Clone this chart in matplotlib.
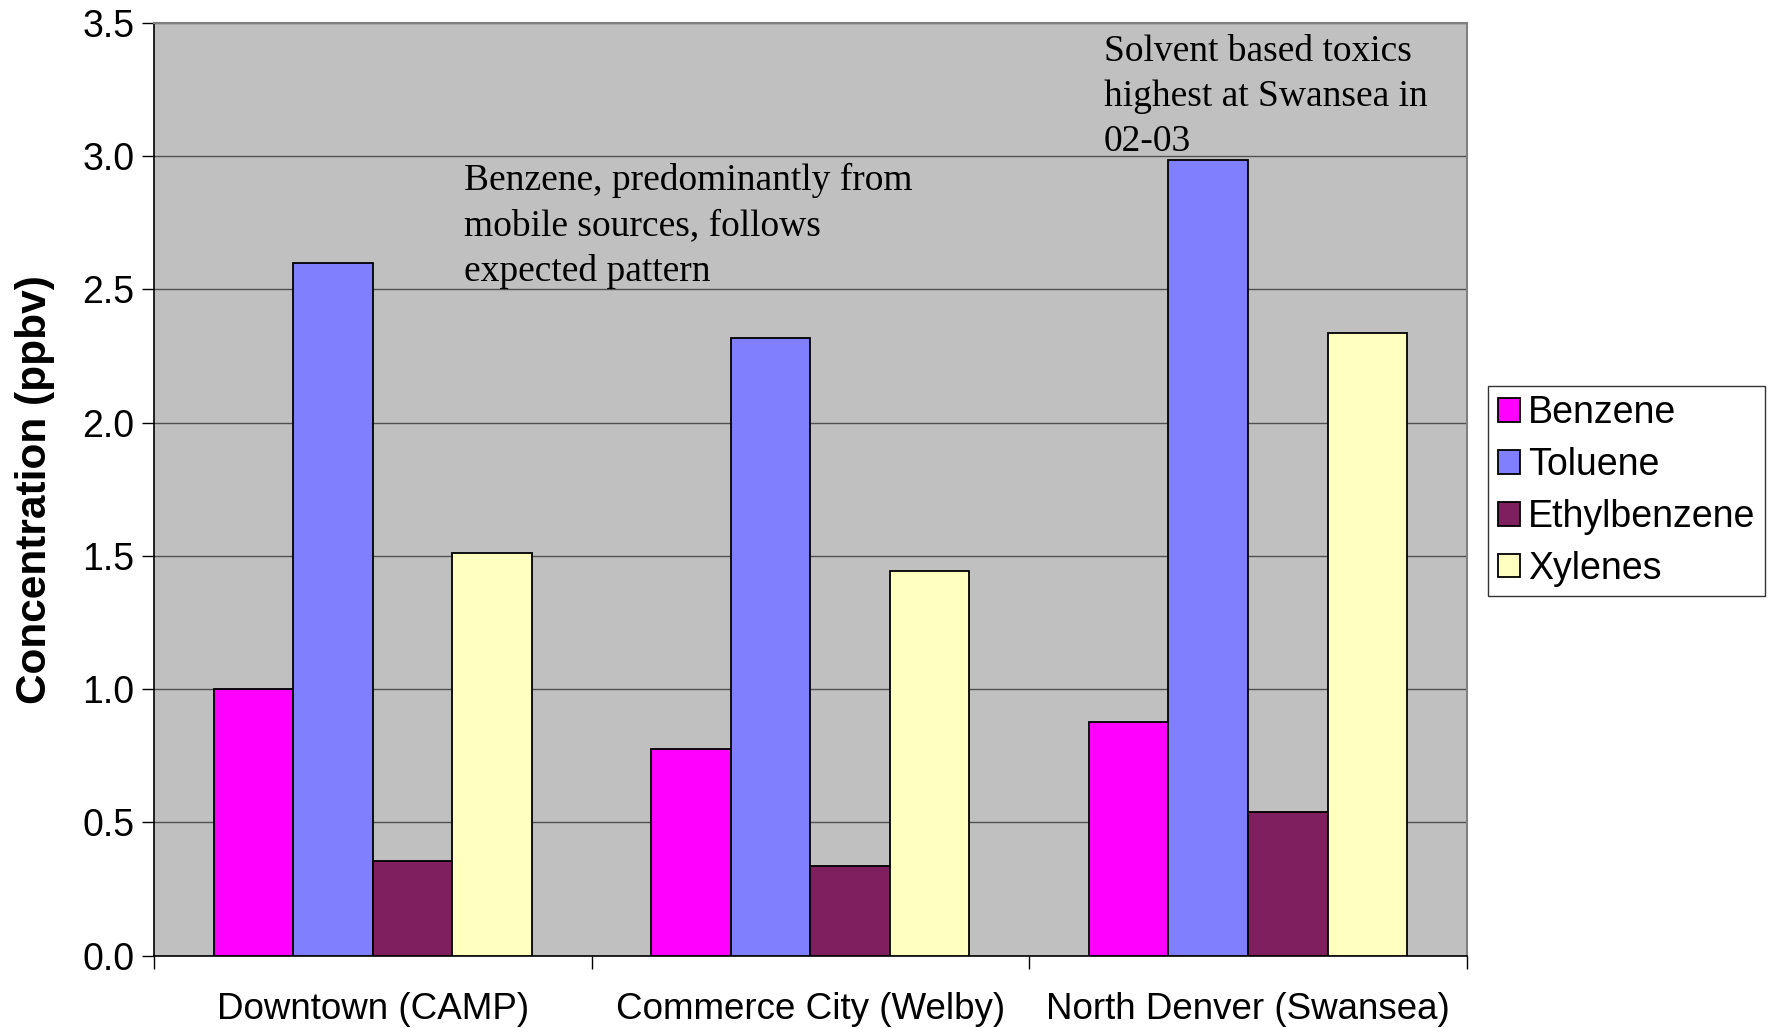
import matplotlib.pyplot as plt
import numpy as np

# Average concentrations of the four aromatics at each site (ppbv)
sites = ["Downtown (CAMP)", "Commerce City (Welby)", "North Denver (Swansea)"]
compounds = ["Benzene", "Toluene", "Ethylbenzene", "Xylenes"]
benzene = [1.00, 0.776, 0.878]
toluene = [2.60, 2.317, 2.987]
ethylbenzene = [0.356, 0.335, 0.539]
xylenes = [1.51, 1.443, 2.338]
colors = ["#FF00FF", "#8080FF", "#7F1F5F", "#FFFFC0"]

series = [benzene, toluene, ethylbenzene, xylenes]

fig = plt.figure(figsize=(17.74, 10.28), dpi=100)
ax = fig.add_axes([0.0868, 0.0704, 0.740, 0.9072])
ax.set_facecolor("#C0C0C0")

# gap width of 1.5 bars between groups, 4 bars each
n = len(series)
bw = 1.0 / (n + 1.5)
x = np.arange(len(sites))
for i, (vals, name, c) in enumerate(zip(series, compounds, colors)):
    ax.bar(x + (i - (n - 1) / 2) * bw, vals, width=bw, color=c,
           edgecolor="black", linewidth=1.3, label=name, zorder=3)

ax.set_xlim(-0.5, 2.5)
ax.set_ylim(0, 3.5)
ax.set_yticks(np.arange(0, 3.51, 0.5))
ax.set_yticklabels([f"{v:.1f}" for v in np.arange(0, 3.51, 0.5)],
                   fontsize=27, family="Liberation Sans")
ax.yaxis.grid(True, color="#505050", linewidth=1.0, zorder=0)
ax.tick_params(axis="y", length=9, width=1, pad=5)

ax.set_xticks([-0.5, 0.5, 1.5, 2.5])
ax.set_xticklabels([])
ax.tick_params(axis="x", which="major", length=9, width=1, direction="out")
ax.set_xticks(x, minor=True)
ax.set_xticklabels(sites, minor=True, fontsize=26.5, family="Liberation Sans")
ax.tick_params(axis="x", which="minor", length=0, pad=26)

for s in ["top", "right"]:
    ax.spines[s].set_color("#808080")
    ax.spines[s].set_linewidth(1.5)
for s in ["left", "bottom"]:
    ax.spines[s].set_color("black")
    ax.spines[s].set_linewidth(1.2)

ax.set_ylabel("Concentration (ppbv)", fontsize=30.5, fontweight="bold",
              family="Liberation Sans", labelpad=20)

ax.text(0.208, 2.975, "Benzene, predominantly from\nmobile sources, follows\nexpected pattern",
        fontsize=27, family="Liberation Serif", va="top", ha="left",
        linespacing=1.4, zorder=4)
ax.text(1.671, 3.457, "Solvent based toxics\nhighest at Swansea in\n02-03",
        fontsize=27, family="Liberation Serif", va="top", ha="left",
        linespacing=1.4, zorder=4)

leg = fig.legend(loc="upper left", bbox_to_anchor=(0.839, 0.6245),
                 prop={"family": "Liberation Sans", "size": 27},
                 frameon=True, fancybox=False, borderpad=0.25,
                 labelspacing=0.42, handlelength=0.6, handleheight=0.6,
                 handletextpad=0.2, borderaxespad=0)
leg.get_frame().set_edgecolor("black")
leg.get_frame().set_linewidth(1.0)

fig.savefig("out.png", dpi=100)
